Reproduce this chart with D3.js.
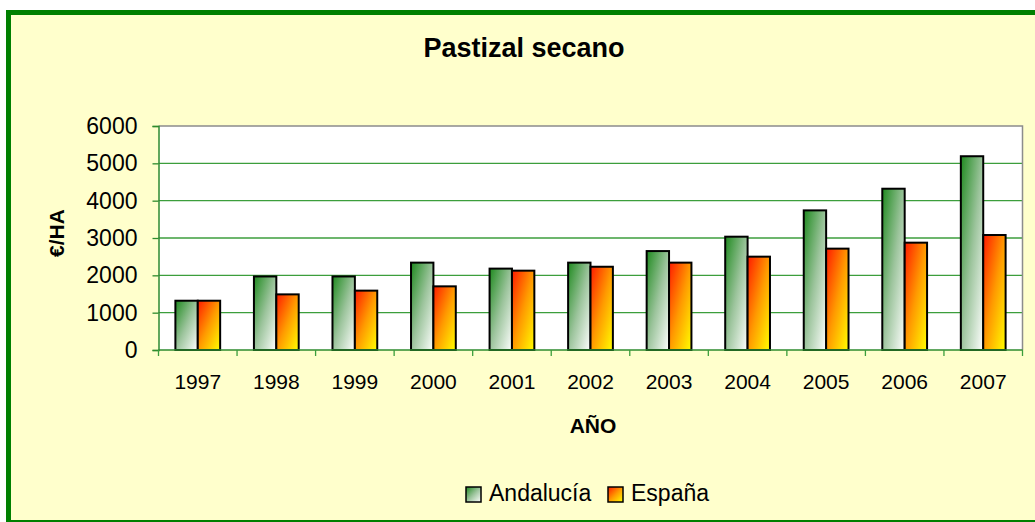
<!DOCTYPE html>
<html>
<head>
<meta charset="utf-8">
<script src="https://cdn.jsdelivr.net/npm/d3@7"></script>
<style>
  body { margin: 0; background: #fff; }
  text { font-family: "Liberation Sans", Arial, sans-serif; fill: #000; }
</style>
</head>
<body>
<div id="chart"></div>
<script>
// values
var years = ["1997","1998","1999","2000","2001","2002","2003","2004","2005","2006","2007"];
var andalucia = [1320, 1970, 1970, 2340, 2180, 2340, 2650, 3035, 3740, 4320, 5190];
var espana = [1320, 1490, 1590, 1705, 2125, 2230, 2340, 2500, 2715, 2875, 3080];
var seriesNames = ["Andalucía", "España"];
var yTicks = [0, 1000, 2000, 3000, 4000, 5000, 6000];

var width = 1035, height = 522;
var plot = {left: 158.5, right: 1022.5, top: 126, bottom: 350};

var svg = d3.select("#chart").append("svg")
  .attr("width", width)
  .attr("height", height);

// gradients for the bars
var defs = svg.append("defs");
var gA = defs.append("linearGradient").attr("id", "gradA")
  .attr("x1", 0).attr("y1", 0).attr("x2", 1).attr("y2", 1);
gA.append("stop").attr("offset", "0%").attr("stop-color", "#1f8a1f");
gA.append("stop").attr("offset", "50%").attr("stop-color", "#9cc49c");
gA.append("stop").attr("offset", "100%").attr("stop-color", "#ffffff");
var gE = defs.append("linearGradient").attr("id", "gradE")
  .attr("x1", 0).attr("y1", 0).attr("x2", 1).attr("y2", 1);
gE.append("stop").attr("offset", "0%").attr("stop-color", "#ff1a00");
gE.append("stop").attr("offset", "50%").attr("stop-color", "#ff9a00");
gE.append("stop").attr("offset", "100%").attr("stop-color", "#ffff00");
var fills = ["url(#gradA)", "url(#gradE)"];

// background + green frame
svg.append("rect")
  .attr("x", 8.5).attr("y", 12.5)
  .attr("width", 1040).attr("height", 510)
  .attr("fill", "#ffffcc")
  .attr("stroke", "#008000")
  .attr("stroke-width", 5);

// plot area
svg.append("rect")
  .attr("x", plot.left).attr("y", plot.top)
  .attr("width", plot.right - plot.left).attr("height", plot.bottom - plot.top)
  .attr("fill", "#ffffff");

var x = d3.scaleBand().domain(years)
  .range([plot.left, plot.right])
  .paddingInner(0.43).paddingOuter(0.215);
var xs = d3.scaleBand().domain(seriesNames).range([0, x.bandwidth()]);
var y = d3.scaleLinear().domain([0, 6000]).range([plot.bottom, plot.top]);

// gridlines
svg.append("g").selectAll("line")
  .data(yTicks.filter(function(d){ return d > 0 && d < 6000; }))
  .enter().append("line")
  .attr("x1", plot.left).attr("x2", plot.right)
  .attr("y1", function(d){ return y(d); })
  .attr("y2", function(d){ return y(d); })
  .attr("stroke", "#3c9e3c")
  .attr("stroke-width", 1.3);

// top and right border of plot (grey)
svg.append("path")
  .attr("d", "M" + plot.left + "," + y(6000) + "H" + plot.right + "V" + plot.bottom)
  .attr("fill", "none")
  .attr("stroke", "#8c8c8c")
  .attr("stroke-width", 1.5);

// bars
var rows = years.map(function(yr, i){
  return {year: yr, vals: [andalucia[i], espana[i]]};
});
var groups = svg.append("g").selectAll("g")
  .data(rows)
  .enter().append("g")
  .attr("transform", function(d){ return "translate(" + x(d.year) + ",0)"; });
groups.selectAll("rect")
  .data(function(d){ return d.vals.map(function(v, k){ return {k: k, v: v}; }); })
  .enter().append("rect")
  .attr("x", function(d){ return xs(seriesNames[d.k]); })
  .attr("y", function(d){ return y(d.v); })
  .attr("width", xs.bandwidth())
  .attr("height", function(d){ return y(0) - y(d.v); })
  .attr("fill", function(d){ return fills[d.k]; })
  .attr("stroke", "#000")
  .attr("stroke-width", 2);

// y axis
var yAxis = svg.append("g")
  .attr("transform", "translate(" + plot.left + ",0)")
  .call(d3.axisLeft(y).tickValues(yTicks).tickSize(6).tickPadding(15).tickFormat(d3.format("d")));
yAxis.select(".domain").attr("stroke", "#2e8b2e").attr("stroke-width", 1.5);
yAxis.selectAll(".tick line").attr("stroke", "#2e8b2e").attr("stroke-width", 1.3);
yAxis.selectAll(".tick text")
  .style("font-size", "23px")
  .attr("font-family", null);

// x axis (ticks between categories)
var xAxisG = svg.append("g");
xAxisG.append("line")
  .attr("x1", plot.left).attr("x2", plot.right)
  .attr("y1", plot.bottom).attr("y2", plot.bottom)
  .attr("stroke", "#2e8b2e").attr("stroke-width", 1.5);
xAxisG.selectAll(".xt")
  .data(d3.range(years.length + 1))
  .enter().append("line")
  .attr("class", "xt")
  .attr("x1", function(i){ return plot.left + i * x.step(); })
  .attr("x2", function(i){ return plot.left + i * x.step(); })
  .attr("y1", plot.bottom).attr("y2", plot.bottom + 6)
  .attr("stroke", "#3c9e3c").attr("stroke-width", 1.3);
xAxisG.selectAll(".xl")
  .data(years)
  .enter().append("text")
  .attr("class", "xl")
  .attr("x", function(d){ return x(d) + x.bandwidth() / 2; })
  .attr("y", 389)
  .attr("text-anchor", "middle")
  .style("font-size", "21px")
  .text(function(d){ return d; });

// title and axis labels
svg.append("text")
  .attr("x", 524).attr("y", 57)
  .attr("text-anchor", "middle")
  .style("font-size", "27px").style("font-weight", "bold")
  .text("Pastizal secano");
svg.append("text")
  .attr("x", 593).attr("y", 433)
  .attr("text-anchor", "middle")
  .style("font-size", "21px").style("font-weight", "bold")
  .text("AÑO");
svg.append("text")
  .attr("transform", "translate(64,233) rotate(-90)")
  .attr("text-anchor", "middle")
  .style("font-size", "21px").style("font-weight", "bold")
  .text("€/HA");

// legend
var legendX = [466, 608];
var legend = svg.append("g").selectAll("g")
  .data(seriesNames)
  .enter().append("g")
  .attr("transform", function(d, i){ return "translate(" + legendX[i] + ",487)"; });
legend.append("rect")
  .attr("width", 15).attr("height", 15)
  .attr("fill", function(d, i){ return fills[i]; })
  .attr("stroke", "#000").attr("stroke-width", 1.5);
legend.append("text")
  .attr("x", 23).attr("y", 14)
  .style("font-size", "23px")
  .text(function(d){ return d; });
</script>
</body>
</html>
